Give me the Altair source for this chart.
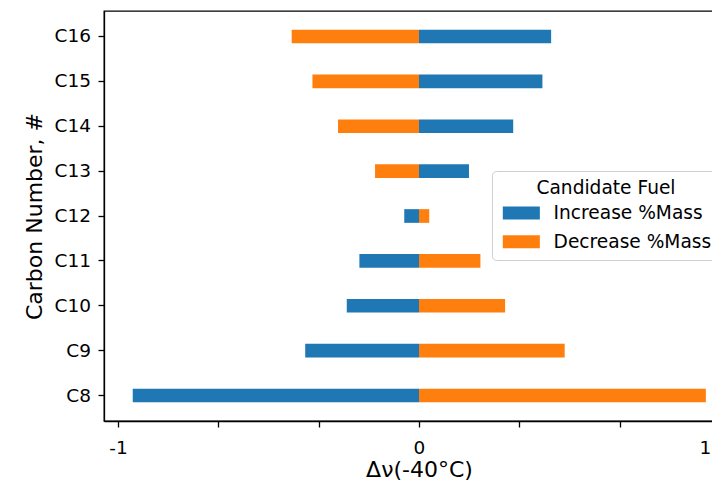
import altair as alt
import pandas as pd

# Data
carbons = ["C8", "C9", "C10", "C11", "C12", "C13", "C14", "C15", "C16"]
increase_mass = [-0.951, -0.378, -0.240, -0.198, -0.049, 0.166, 0.313, 0.410, 0.439]
decrease_mass = [0.953, 0.484, 0.286, 0.204, 0.034, -0.146, -0.269, -0.354, -0.423]
series_names = ["Increase %Mass", "Decrease %Mass"]
series_colors = ["#1f77b4", "#ff7f0e"]
x_tick_values = [-1, -2 / 3, -1 / 3, 0, 1 / 3, 2 / 3, 1]

rows = []
for c, v in zip(carbons, increase_mass):
    rows.append({"carbon": c, "series": series_names[0], "value": v})
for c, v in zip(carbons, decrease_mass):
    rows.append({"carbon": c, "series": series_names[1], "value": v})
df = pd.DataFrame(rows)

FONT = "DejaVu Sans"
W = 630
H = 410
XMIN, XMAX = -1.0465, 1.0465

chart = (
    alt.Chart(df)
    .mark_bar()
    .encode(
        x=alt.X(
            "value:Q",
            scale=alt.Scale(domain=[XMIN, XMAX], nice=False, zero=False),
            axis=alt.Axis(
                values=x_tick_values,
                labelExpr="abs(datum.value + 1) < 1e-6 ? '-1' : (abs(datum.value) < 1e-6 ? '0' : (abs(datum.value - 1) < 1e-6 ? '1' : ''))",
                labelOffset=alt.condition("datum.value > 0.9", alt.value(-15), alt.value(0)),
                title="Δν(-40°C)",
                labelPadding=11,
                labelFlush=False,
                labelOverlap=False,
                labelBound=False,
                titleY=55,
                titleBaseline="alphabetic",
                titleAlign="center",
            ),
        ),
        x2=alt.datum(0),
        y=alt.Y(
            "carbon:N",
            sort=list(reversed(carbons)),
            scale=alt.Scale(paddingInner=0.695, paddingOuter=0.415),
            axis=alt.Axis(
                title="Carbon Number, #",
                labelPadding=7.5,
                titleX=-63,
                titleY=205,
                titleBaseline="alphabetic",
                titleAlign="center",
                titleAngle=-90,
            ),
        ),
        color=alt.Color(
            "series:N",
            scale=alt.Scale(domain=series_names, range=series_colors),
            legend=alt.Legend(
                title="Candidate Fuel",
                orient="none",
                legendX=388,
                legendY=160,
                fillColor="white",
                strokeColor="#d0d0d0",
                cornerRadius=4,
                padding=8,
                titleFont=FONT,
                titleFontSize=18.6,
                titleFontWeight="normal",
                titleColor="black",
                titleAnchor="middle",
                titlePadding=6,
                titleLimit=400,
                labelFont=FONT,
                labelFontSize=18.6,
                labelColor="black",
                labelOffset=35,
                labelLimit=400,
                rowPadding=9.8,
                symbolType="M-1,-1H4.7V1H-1Z",
                symbolSize=169,
                symbolStrokeWidth=0,
                symbolOpacity=1,
            ),
        ),
    )
    .properties(
        width=W,
        height=H,
        autosize=alt.AutoSizeParams(type="none"),
        padding={"left": 96, "top": 3, "right": -22, "bottom": 60},
    )
    .configure_view(stroke="black", strokeWidth=1.3)
    .configure_axis(
        grid=False,
        domainColor="black",
        domainWidth=1.3,
        tickColor="black",
        tickWidth=1.3,
        tickSize=6,
        labelFont=FONT,
        labelFontSize=18.5,
        labelColor="black",
        titleFont=FONT,
        titleFontSize=22,
        titleFontWeight="normal",
        titleColor="black",
    )
)

chart.save("out.html", embed_options={"renderer": "svg", "actions": False})
